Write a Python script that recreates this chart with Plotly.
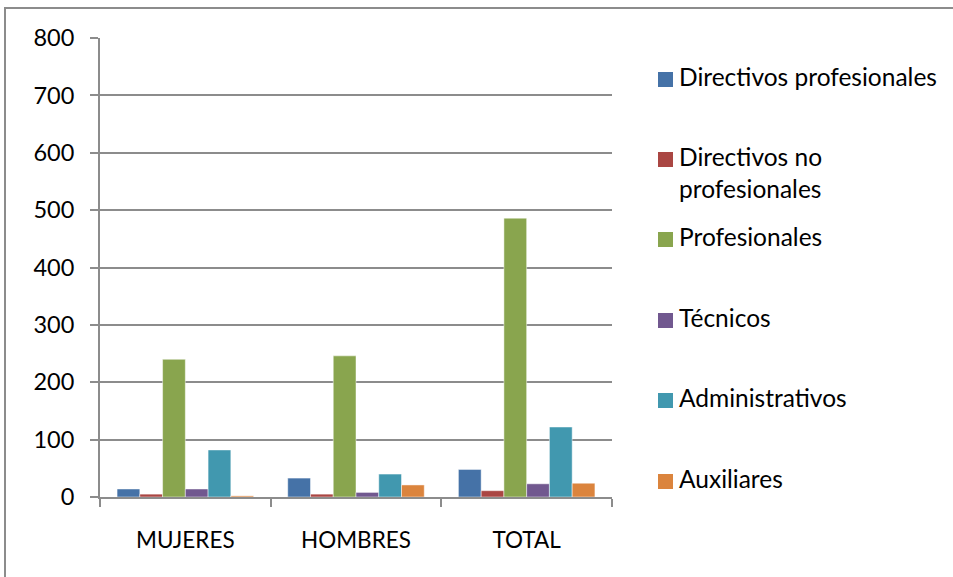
import plotly.graph_objects as go

categories = ["MUJERES", "HOMBRES", "TOTAL"]
series_names = ["Directivos profesionales", "Directivos no<br>profesionales", "Profesionales",
                "Técnicos", "Administrativos", "Auxiliares"]
directivos_prof = [14, 33, 48]
directivos_no_prof = [5, 5, 11]
profesionales = [240, 246, 486]
tecnicos = [14, 8, 23]
administrativos = [82, 40, 122]
auxiliares = [2, 21, 24]
y_ticks = [0, 100, 200, 300, 400, 500, 600, 700, 800]

series_values = [directivos_prof, directivos_no_prof, profesionales, tecnicos, administrativos, auxiliares]
colors = ["#4572A7", "#AA4643", "#89A54E", "#71588F", "#4198AF", "#DB843D"]

FONT = "Lato, 'Liberation Sans', sans-serif"
GRID = "#8c8c8c"

# plot area in pixels
L, R, T, B = 100, 612, 38, 497
PW, PH = R - L, B - T


def px_x(px):
    return (px - L) / PW


def px_y(py):
    return (B - py) / PH


fig = go.Figure()
for name, vals, col in zip(series_names, series_values, colors):
    fig.add_trace(go.Bar(
        x=categories, y=vals, name=name,
        marker=dict(color=col, line=dict(color="rgba(255,255,255,0.6)", width=0.8)),
        showlegend=False,
    ))

# legend drawn manually (Excel-style spacing)
legend_square_centers = [79.5, 159.5, 239.5, 320.5, 400.5, 481.5]
shapes = [dict(type="rect", xref="paper", yref="paper",
               x0=px_x(5), x1=px_x(975), y0=px_y(600), y1=px_y(8),
               line=dict(color=GRID, width=2), fillcolor="rgba(0,0,0,0)", layer="below")]
annotations = []
for name, col, cy in zip(series_names, colors, legend_square_centers):
    shapes.append(dict(type="rect", xref="paper", yref="paper",
                       x0=px_x(658), x1=px_x(673), y0=px_y(cy + 7.5), y1=px_y(cy - 7.5),
                       line=dict(width=0), fillcolor=col))
    two_line = "<br>" in name
    annotations.append(dict(xref="paper", yref="paper", x=px_x(677),
                            y=px_y(cy - 19 if two_line else cy - 3),
                            xanchor="left", yanchor="top" if two_line else "middle",
                            align="left", showarrow=False, text=name,
                            font=dict(family=FONT, size=24.5, color="#000000")))

fig.update_layout(
    width=953, height=577,
    margin=dict(l=L, r=953 - R, t=T, b=577 - B),
    paper_bgcolor="white", plot_bgcolor="white",
    barmode="group", bargap=0.2, bargroupgap=0,
    font=dict(family=FONT, size=22, color="#000000"),
    showlegend=False,
    xaxis=dict(type="category", showline=True, linecolor=GRID, linewidth=2,
               ticks="outside", tickson="boundaries", ticklen=8, tickcolor=GRID, tickwidth=2,
               ticklabelstandoff=22, tickfont=dict(family=FONT, size=22.5, color="#000000"),
               showgrid=False),
    yaxis=dict(range=[0, 800], tickvals=y_ticks, showline=True, linecolor=GRID, linewidth=2,
               ticks="outside", ticklen=8, tickcolor=GRID, tickwidth=2,
               ticklabelstandoff=11, tickfont=dict(family=FONT, size=23.5, color="#000000"),
               showgrid=True, gridcolor=GRID, gridwidth=2, zeroline=False),
    shapes=shapes,
    annotations=annotations,
)

fig.write_html("out.html", config={"displayModeBar": False},
               post_script="document.body.style.margin='0';")
